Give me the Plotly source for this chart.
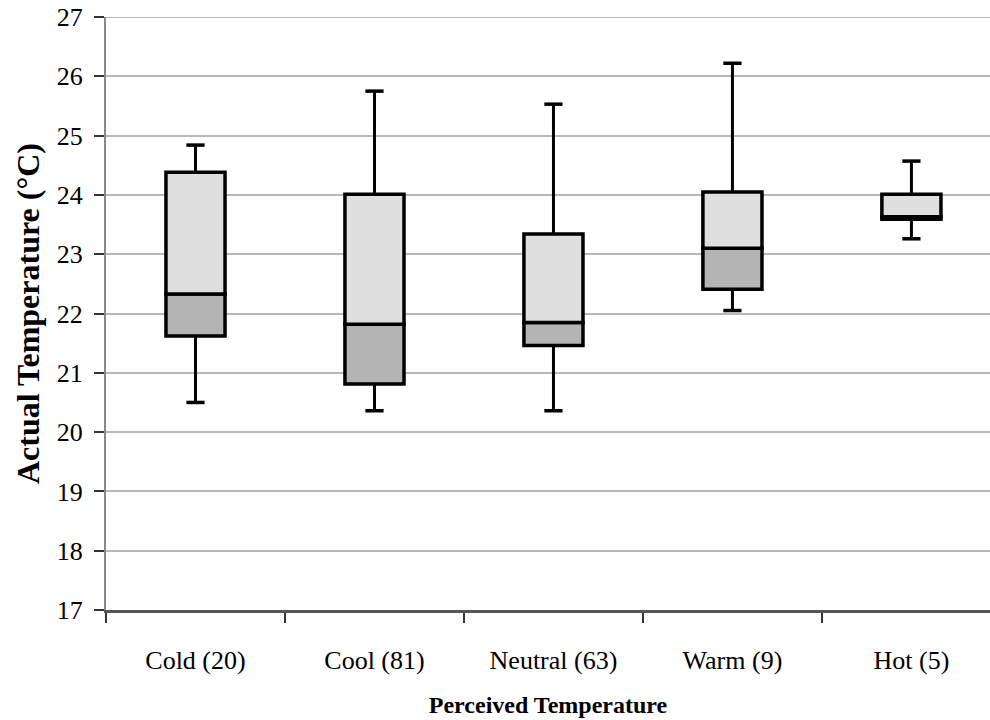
import plotly.graph_objects as go

categories = ["Cold (20)", "Cool (81)", "Neutral (63)", "Warm (9)", "Hot (5)"]
minimum = [20.50, 20.36, 20.36, 22.05, 23.26]
q1 = [21.62, 20.81, 21.46, 22.41, 23.59]
median = [22.33, 21.82, 21.85, 23.10, 23.63]
q3 = [24.38, 24.01, 23.34, 24.05, 24.01]
maximum = [24.84, 25.75, 25.53, 26.22, 24.57]
y_ticks = [17, 18, 19, 20, 21, 22, 23, 24, 25, 26, 27]

FONT = "Liberation Serif"
LIGHT = "#dfdfdf"
DARK = "#b4b4b4"
GRID = "#b8b8b8"

fig = go.Figure()

# whiskers
wx, wy = [], []
for c, lo, a, b, hi in zip(categories, minimum, q1, q3, maximum):
    wx += [c, c, None, c, c, None]
    wy += [b, hi, None, lo, a, None]
fig.add_trace(go.Scatter(x=wx, y=wy, mode="lines", line=dict(color="black", width=3),
                         hoverinfo="skip", showlegend=False))
fig.add_trace(go.Scatter(x=categories + categories, y=maximum + minimum, mode="markers",
                         marker=dict(symbol="line-ew", size=13, line=dict(color="black", width=3.5)),
                         hoverinfo="skip", showlegend=False))

# lower box (Q1 -> median)
fig.add_trace(go.Bar(x=categories, y=[m - a for m, a in zip(median, q1)], base=q1,
                     width=0.33, marker=dict(color=DARK, line=dict(color="black", width=3.5)),
                     showlegend=False))
# upper box (median -> Q3)
fig.add_trace(go.Bar(x=categories, y=[b - m for b, m in zip(q3, median)], base=median,
                     width=0.33, marker=dict(color=LIGHT, line=dict(color="black", width=3.5)),
                     showlegend=False))

# top gridline (Plotly omits gridlines at the range ends when the axis line is shown)
fig.add_shape(type="line", xref="paper", x0=0, x1=1, yref="y", y0=y_ticks[-1], y1=y_ticks[-1],
              line=dict(color=GRID, width=2), layer="below")

fig.update_layout(
    width=990, height=720,
    margin=dict(l=106, r=0, t=17, b=110),
    paper_bgcolor="white", plot_bgcolor="white",
    barmode="overlay",
    font=dict(family=FONT, color="black"),
)
fig.update_xaxes(
    type="category", range=[-0.5, 4.439], automargin=False,
    tickson="boundaries", ticks="outside", ticklen=10, tickwidth=1.5, tickcolor="#333",
    showline=True, linecolor="#555", linewidth=2.5,
    showgrid=False, zeroline=False,
    tickfont=dict(family=FONT, size=26, color="black"),
    ticklabelstandoff=25,
    title=dict(text="<b>Perceived Temperature</b>", font=dict(family=FONT, size=24, color="black"),
               standoff=23),
)
fig.update_yaxes(
    range=[17, 27], tickvals=y_ticks, ticktext=[str(v) for v in y_ticks], automargin=False,
    ticks="outside", ticklen=10, tickwidth=1.5, tickcolor="#333",
    showline=True, linecolor="#888", linewidth=2,
    showgrid=True, gridcolor=GRID, gridwidth=2, zeroline=False,
    tickfont=dict(family=FONT, size=26, color="black"),
    ticklabelstandoff=6,
    title=dict(text="<b>Actual Temperature (°C)</b>", font=dict(family=FONT, size=32, color="black"),
               standoff=8),
)

fig.write_html("out.html", config={"displayModeBar": False},
               post_script="document.body.style.margin='0';")
